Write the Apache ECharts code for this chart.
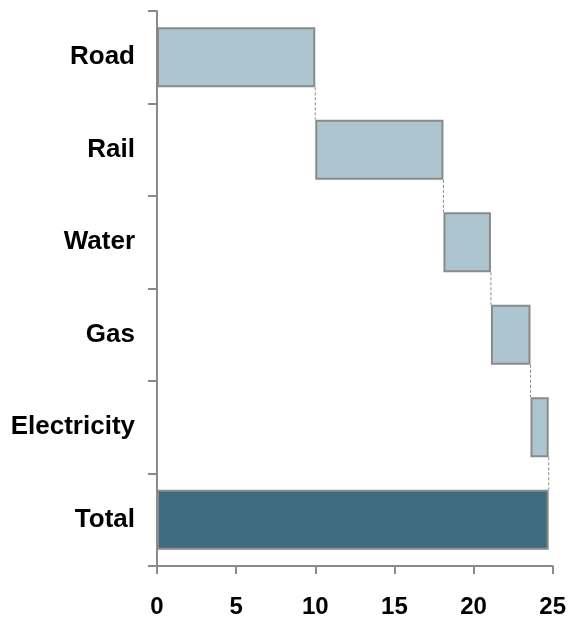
<!DOCTYPE html>
<html>
<head>
<meta charset="utf-8">
<script src="https://cdn.jsdelivr.net/npm/echarts@6/dist/echarts.min.js"></script>
<style>
  html, body { margin: 0; padding: 0; background: #fff; }
  #chart { width: 569px; height: 619px; }
</style>
</head>
<body>
<div id="chart"></div>
<script>
// Waterfall: contribution of each network to the total
const categories = ['Road', 'Rail', 'Water', 'Gas', 'Electricity', 'Total'];
const increments = [10.0, 8.1, 3.0, 2.5, 1.15];
const xTicks = [0, 5, 10, 15, 20, 25];

// running totals for the floating bars
const bases = [];
const ends = [];
let run = 0;
increments.forEach(v => { bases.push(run); run += v; ends.push(run); });
const total = run;

const baseData = bases.concat([0]);
const valueData = increments.concat([total]);

const lightFill = '#adc5cf';
const darkFill = '#3f6c80';
const edge = '#8a8a8a';

const chart = echarts.init(document.getElementById('chart'));
chart.setOption({
  animation: false,
  grid: { left: 157, right: 15, top: 11, bottom: 49 },
  xAxis: {
    type: 'value',
    min: xTicks[0],
    max: xTicks[xTicks.length - 1],
    interval: 5,
    axisLine: { show: true, lineStyle: { color: edge, width: 2 } },
    axisTick: { show: true, length: 8, lineStyle: { color: edge, width: 2 } },
    splitLine: { show: false },
    axisLabel: {
      margin: 29, color: '#000', fontSize: 24, fontWeight: 'bold',
      fontFamily: 'Liberation Sans, Arial, sans-serif'
    }
  },
  yAxis: {
    type: 'category',
    inverse: true,
    data: categories,
    axisLine: { show: true, lineStyle: { color: edge, width: 2 } },
    axisTick: { show: true, length: 9, lineStyle: { color: edge, width: 2 } },
    axisLabel: {
      margin: 22, color: '#000', fontSize: 26, fontWeight: 'bold',
      fontFamily: 'Liberation Sans, Arial, sans-serif'
    }
  },
  series: [
    {
      type: 'bar', stack: 'w', barWidth: '65%',
      itemStyle: { color: 'transparent', borderWidth: 0 },
      silent: true,
      data: baseData
    },
    {
      type: 'bar', stack: 'w', barWidth: '65%',
      data: valueData.map((v, i) => ({
        value: v,
        itemStyle: {
          color: i === categories.length - 1 ? darkFill : lightFill,
          borderColor: edge, borderWidth: 2
        }
      }))
    },
    {
      // dashed connectors between consecutive bar ends
      type: 'custom',
      silent: true,
      data: ends.map((e, i) => [e, i]),
      renderItem: function (params, api) {
        const x = api.value(0);
        const i = api.value(1);
        const p0 = api.coord([x, i]);
        const p1 = api.coord([x, i + 1]);
        const h = api.size([0, 1])[1] * 0.65;
        return {
          type: 'line',
          shape: { x1: p0[0], y1: p0[1] + h / 2, x2: p1[0], y2: p1[1] - h / 2 },
          style: { stroke: edge, lineWidth: 1, lineDash: [3, 2] }
        };
      },
      z: 1
    }
  ]
});
</script>
</body>
</html>
